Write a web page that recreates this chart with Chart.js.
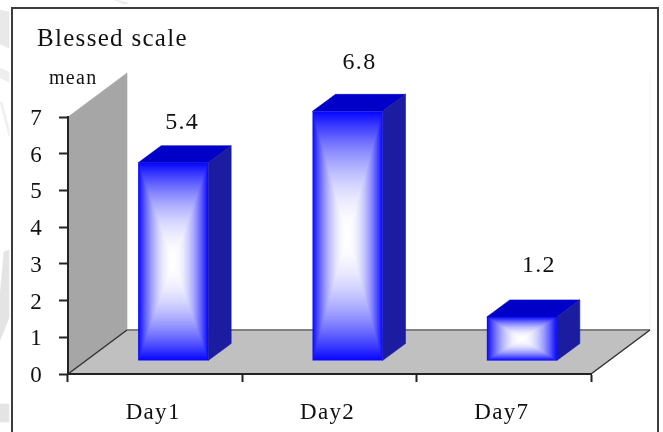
<!DOCTYPE html>
<html>
<head>
<meta charset="utf-8">
<title>Blessed scale</title>
<style>
  html, body { margin: 0; background: #fff; }
  canvas { display: block; }
</style>
<script src="https://cdn.jsdelivr.net/npm/chart.js@4"></script>
</head>
<body>
<canvas id="blessedChart" width="663" height="432"></canvas>
<script>
const days = ["Day1", "Day2", "Day7"];
const means = [5.4, 6.8, 1.2];
const yTicks = [0, 1, 2, 3, 4, 5, 6, 7];

const serif = '"Liberation Serif", serif';

// how far the back wall and the bar boxes recede
const wallDepth = { x: 59, y: 44 };
const barShift = { x: 18, y: 13 };
const barDepth = { x: 23, y: 17 };

// value label position relative to the top of the front face
const labelOffsets = [
  { x: 9, y: 40 },
  { x: 12, y: 49 },
  { x: 17, y: 51 },
];

function poly(ctx, pts, fill) {
  ctx.beginPath();
  pts.forEach(([x, y], i) => (i ? ctx.lineTo(x, y) : ctx.moveTo(x, y)));
  ctx.closePath();
  ctx.fillStyle = fill;
  ctx.fill();
  // hides the seam between neighbouring faces
  ctx.strokeStyle = fill;
  ctx.lineWidth = 0.6;
  ctx.stroke();
}

function line(ctx, x1, y1, x2, y2, color, width) {
  ctx.beginPath();
  ctx.moveTo(x1, y1);
  ctx.lineTo(x2, y2);
  ctx.strokeStyle = color;
  ctx.lineWidth = width;
  ctx.stroke();
}

// rectangular gradient, blue at the edges to white in the centre
function gradientFace(ctx, x, y, w, h) {
  const steps = 70;
  for (let i = 0; i < steps; i++) {
    const t = i / steps;
    const mix = 1 - (1 - t) * (1 - t);
    const c = Math.round(8 + 247 * mix);
    ctx.fillStyle = `rgb(${c},${c},255)`;
    ctx.fillRect(x + (w * t) / 2, y + (h * t) / 2, w * (1 - t), h * (1 - t));
  }
}

const backdrop = {
  id: "backdrop",
  beforeDraw(chart) {
    const { ctx, height, scales } = chart;
    ctx.letterSpacing = "1.3px";
    const left = scales.x.left;
    const right = scales.x.right;
    const base = scales.y.getPixelForValue(0);
    const top = scales.y.getPixelForValue(yTicks[yTicks.length - 1]);

    ctx.save();
    // faint pattern behind the frame
    poly(ctx, [[0, 10], [9, 12], [9, 48], [0, 44]], "#e9e9e9");
    poly(ctx, [[0, 68], [9, 72], [9, 82], [0, 78]], "#eeeeee");
    poly(ctx, [[0, 102], [2, 102], [9, 128], [9, 136]], "#eeeeee");
    poly(ctx, [[4, 252], [9, 250], [9, 318], [0, 340], [0, 296]], "#e4e4e4");
    poly(ctx, [[0, 404], [9, 404], [9, 422], [0, 422]], "#e4e4e4");
    poly(ctx, [[115, 0], [128, 3], [124, 4]], "#e9e9e9");

    // frame
    ctx.strokeStyle = "#3c3c3c";
    ctx.lineWidth = 2;
    ctx.strokeRect(12, 8, 646, height + 20);
    ctx.fillStyle = "#fff";
    ctx.fillRect(13, 9, 644, height);

    // wall and floor
    poly(ctx, [[left, base], [left, top], [left + wallDepth.x, top - wallDepth.y], [left + wallDepth.x, base - wallDepth.y]], "#a6a6a6");
    poly(ctx, [[left, base], [left + wallDepth.x, base - wallDepth.y], [right + wallDepth.x, base - wallDepth.y], [right, base]], "#c0c0c0");
    line(ctx, right + wallDepth.x, top - wallDepth.y, right + wallDepth.x, base - wallDepth.y, "#f2f2f2", 1);
    line(ctx, left + wallDepth.x, base - wallDepth.y, right + wallDepth.x, base - wallDepth.y, "#808080", 2);
    line(ctx, left, base, left + wallDepth.x, base - wallDepth.y, "#333", 1.5);
    line(ctx, right, base, right + wallDepth.x, base - wallDepth.y, "#333", 1.5);
    ctx.restore();
  },
  afterDatasetsDraw(chart) {
    const { ctx } = chart;
    ctx.save();
    chart.getDatasetMeta(0).data.forEach((bar, i) => {
      const x0 = bar.x - bar.width / 2 + barShift.x;
      const x1 = x0 + bar.width;
      const yTop = bar.y - barShift.y;
      const yBase = bar.base - barShift.y;

      poly(ctx, [[x0, yTop], [x0 + barDepth.x, yTop - barDepth.y], [x1 + barDepth.x, yTop - barDepth.y], [x1, yTop]], "#0000c8");
      poly(ctx, [[x1, yTop], [x1 + barDepth.x, yTop - barDepth.y], [x1 + barDepth.x, yBase - barDepth.y], [x1, yBase]], "#1c1ca0");
      gradientFace(ctx, x0, yTop, bar.width, yBase - yTop);

      ctx.fillStyle = "#111";
      ctx.font = `24px ${serif}`;
      ctx.textAlign = "center";
      ctx.textBaseline = "middle";
      ctx.fillText(means[i].toFixed(1), bar.x + barShift.x + labelOffsets[i].x, yTop - labelOffsets[i].y);
    });

    ctx.fillStyle = "#111";
    ctx.textAlign = "left";
    ctx.textBaseline = "alphabetic";
    ctx.font = `25px ${serif}`;
    ctx.fillText("Blessed scale", 37, 46);
    ctx.font = `20px ${serif}`;
    ctx.fillText("mean", 49, 84);
    ctx.restore();
  },
};

new Chart(document.getElementById("blessedChart"), {
  type: "bar",
  data: {
    labels: days,
    datasets: [
      {
        data: means,
        backgroundColor: "transparent",
        barThickness: 70,
      },
    ],
  },
  options: {
    responsive: false,
    animation: false,
    layout: { padding: { top: 117, right: 72, left: 0, bottom: 0 } },
    plugins: {
      legend: { display: false },
      tooltip: { enabled: false },
    },
    scales: {
      x: {
        afterFit: (scale) => { scale.height = 58; },
        border: { color: "#222", width: 2 },
        grid: { drawOnChartArea: false, tickLength: 8, tickColor: "#222", tickWidth: 2 },
        ticks: { color: "#111", padding: 17, labelOffset: -2, maxRotation: 0, font: { family: serif, size: 23 } },
      },
      y: {
        min: 0,
        max: 7,
        afterFit: (scale) => { scale.width = 68; },
        border: { color: "#222", width: 2 },
        grid: { drawOnChartArea: false, tickLength: 9, tickColor: "#222", tickWidth: 2 },
        afterBuildTicks: (scale) => { scale.ticks = yTicks.map((value) => ({ value })); },
        ticks: { color: "#111", padding: 16, labelOffset: 2, font: { family: serif, size: 23 } },
      },
    },
  },
  plugins: [backdrop],
});
</script>
</body>
</html>
